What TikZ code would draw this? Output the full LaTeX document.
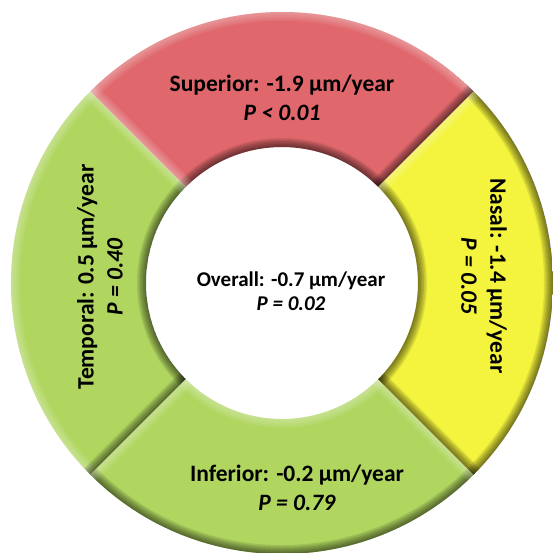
\documentclass[tikz,border=0pt]{standalone}
\usepackage{fontspec}
\setmainfont{Carlito}
\definecolor{supred}{RGB}{224,104,108}
\definecolor{nasyellow}{RGB}{244,244,62}
\definecolor{infgreen}{RGB}{176,214,96}
\newcommand{\outerr}{271}
\newcommand{\innerr}{136}
% one quarter of the ring, between two angles
\newcommand{\ringsector}[2]{(#1:\outerr) arc[start angle=#1,end angle=#2,radius=\outerr] -- (#2:\innerr) arc[start angle=#2,end angle=#1,radius=\innerr] -- cycle}
% soft bevel along one edge
\newcommand{\bevel}[2]{
  \foreach \w in {3,6,...,18} {
    \draw[#1,line width=\w] #2;
  }
}
% sector: start, end, fill, outer edge, inner edge, start edge, end edge
\newcommand{\ringpart}[7]{
  \begin{scope}
    \clip \ringsector{#1}{#2};
    \fill[#3] \ringsector{#1}{#2};
    \bevel{#4}{(#1:\outerr) arc[start angle=#1,end angle=#2,radius=\outerr]}
    \bevel{#5}{(#1:\innerr) arc[start angle=#1,end angle=#2,radius=\innerr]}
    \bevel{#6}{(#1:\innerr) -- (#1:\outerr)}
    \bevel{#7}{(#2:\innerr) -- (#2:\outerr)}
  \end{scope}
}

\begin{document}
\begin{tikzpicture}[x=1pt,y=1pt,
    lit/.style={white,opacity=0.06},
    shade/.style={black,opacity=0.1},
    lbl/.style={align=center,font=\fontsize{23.5}{29}\selectfont\bfseries},
    mid/.style={align=center,font=\fontsize{21}{24}\selectfont\bfseries}]
\useasboundingbox (-282,-269) rectangle (271,283);
\ringpart{45}{135}{supred}{lit}{shade}{shade}{lit}
\ringpart{135}{225}{infgreen}{lit}{shade}{lit}{shade}
\ringpart{225}{315}{infgreen}{shade}{lit}{lit}{lit}
\ringpart{-45}{45}{nasyellow}{shade}{shade}{shade}{lit}

\node[lbl] (superior) at (0,185) {Superior: -1.9 µm/year\\\textit{P < 0.01}};
\node[lbl,rotate=90] (temporal) at (-182,6) {Temporal: 0.5 µm/year\\\textit{P = 0.40}};
\node[lbl,rotate=-90] (nasal) at (202,7) {Nasal: -1.4 µm/year\\\textit{P = 0.05}};
\node[lbl] (inferior) at (15,-205) {Inferior: -0.2 µm/year\\\textit{P = 0.79}};
\node[mid] (overall) at (9,-8) {Overall: -0.7 µm/year\\\textit{P = 0.02}};
\end{tikzpicture}
\end{document}
